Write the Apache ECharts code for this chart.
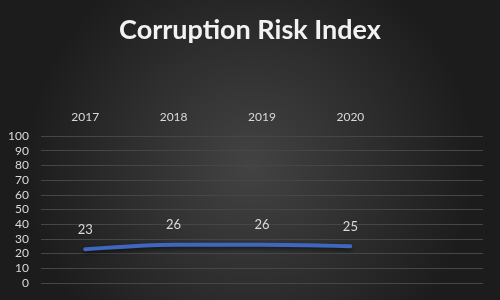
<!DOCTYPE html>
<html><head><meta charset="utf-8">
<script src="https://cdn.jsdelivr.net/npm/echarts@6/dist/echarts.min.js"></script>
<style>html,body{margin:0;padding:0;}#c{width:500px;height:300px;}</style>
</head><body><div id="c"></div>
<script>
const categories = ['2017', '2018', '2019', '2020', ''];
const values = [23, 26, 26, 25, null];
const yTicks = [0, 10, 20, 30, 40, 50, 60, 70, 80, 90, 100];

const chart = echarts.init(document.getElementById('c'));
chart.setOption({
  animation: false,
  backgroundColor: {
    type: 'radial', x: 0.5, y: 0.55, r: 0.75,
    colorStops: [{offset: 0, color: '#434343'}, {offset: 1, color: '#1c1c1c'}]
  },
  title: {
    text: 'Corruption Risk Index', left: 'center', top: 12,
    textStyle: {color: '#f2f2f2', fontFamily: 'Lato', fontWeight: 'bold', fontSize: 27}
  },
  grid: {left: 41, right: 17, top: 136, bottom: 17},
  xAxis: {
    type: 'category', data: categories, position: 'top', boundaryGap: true,
    axisLine: {show: false}, axisTick: {show: false},
    axisLabel: {color: '#d9d9d9', fontFamily: 'Lato', fontSize: 12, margin: 13}
  },
  yAxis: {
    type: 'value', min: yTicks[0], max: yTicks[yTicks.length - 1], interval: 10,
    axisLine: {show: false}, axisTick: {show: false},
    axisLabel: {color: '#d9d9d9', fontFamily: 'Lato', fontSize: 12, margin: 12},
    splitLine: {lineStyle: {color: '#464646', width: 1}}
  },
  series: [{
    type: 'line', data: values, smooth: 0.25, showSymbol: true, symbol: 'circle', symbolSize: 2,
    itemStyle: {color: 'rgba(0,0,0,0)', borderWidth: 0},
    lineStyle: {color: '#3f67c0', width: 4, cap: 'round', shadowColor: 'rgba(0,0,0,0.6)', shadowBlur: 4, shadowOffsetY: 2},
    label: {show: true, position: 'top', distance: 12, color: '#d9d9d9', fontFamily: 'Lato', fontSize: 13},
    connectNulls: false
  }]
});
</script></body></html>
